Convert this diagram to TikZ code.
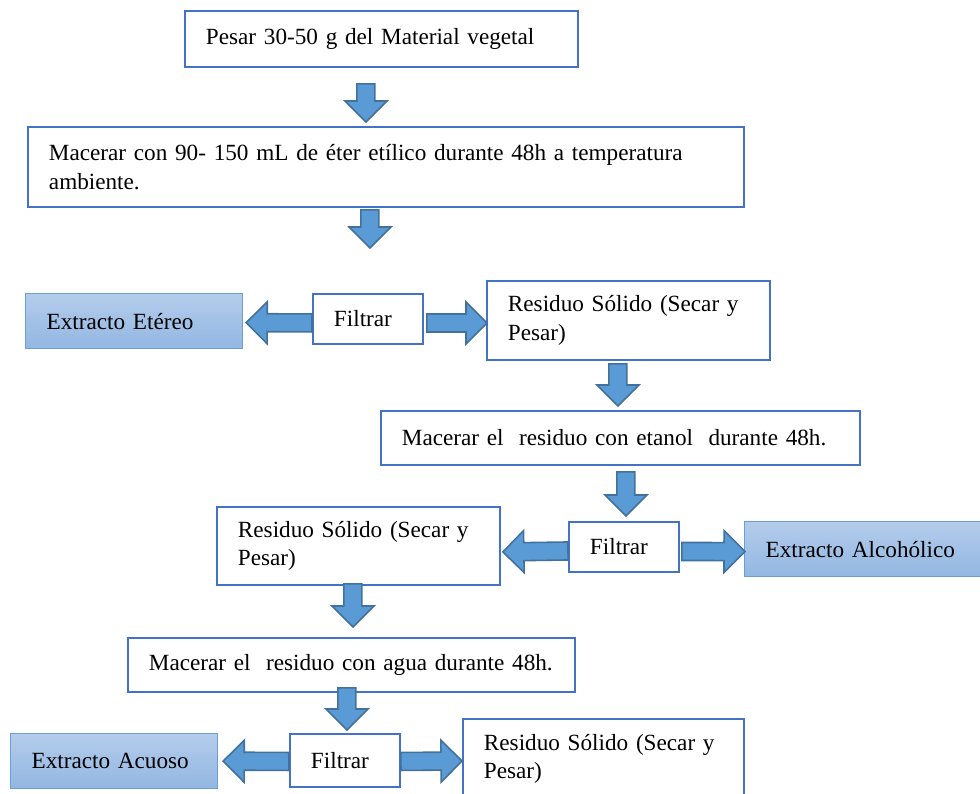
\documentclass[tikz,border=0pt]{standalone}
\usepackage{fontspec}
\setmainfont{Liberation Serif}
\usetikzlibrary{positioning, calc}
\definecolor{boxblue}{RGB}{68, 114, 196}
\definecolor{arrowblue}{RGB}{91, 155, 213}
\definecolor{arrowedge}{RGB}{65, 113, 156}
\definecolor{extracttop}{RGB}{180, 204, 235}
\definecolor{extractbottom}{RGB}{146, 183, 226}
\definecolor{extractedge}{RGB}{108, 158, 214}

\begin{document}
\begin{tikzpicture}[
    x=0.02cm, y=-0.02cm,
    procbox/.style={rectangle, anchor=north west, draw=boxblue, line width=1.1pt, fill=white, inner xsep=0.42cm, inner ysep=2pt, align=left, font=\fontsize{13.2}{16.2}\selectfont},
    extbox/.style={procbox, draw=extractedge, line width=0.7pt, top color=extracttop, bottom color=extractbottom},
    blockarrow/.style={draw=arrowedge, line width=0.9pt, fill=arrowblue, line join=miter, to path={
        ($(\tikztostart)!0.18cm!90:(\tikztotarget)$) --
        ($(\tikztotarget)!0.42cm!(\tikztostart)!0.18cm!90:(\tikztotarget)$) --
        ($(\tikztotarget)!0.42cm!(\tikztostart)!0.42cm!90:(\tikztotarget)$) --
        (\tikztotarget) --
        ($(\tikztotarget)!0.42cm!(\tikztostart)!0.42cm!-90:(\tikztotarget)$) --
        ($(\tikztotarget)!0.42cm!(\tikztostart)!0.18cm!-90:(\tikztotarget)$) --
        ($(\tikztostart)!0.18cm!-90:(\tikztotarget)$) -- cycle}}
]

\useasboundingbox (0,0) rectangle (980,794);
\clip (0,0) rectangle (980,794);

% First extraction (ether)
\node (pesar_box) [procbox, text width=7.02cm, minimum height=1.12cm] at (184,10) {Pesar 30-50 g del Material vegetal};
\node (eter_macer) [procbox, text width=13.48cm, minimum height=1.6cm] at (27,126) {Macerar con 90- 150 mL de éter etílico durante 48h a temperatura\\ambiente.};
\node (eter_extract) [extbox, text width=3.5cm, minimum height=1.1cm] at (25,293) {Extracto Etéreo};
\node (eter_filter) [procbox, text width=1.36cm, minimum height=1.0cm] at (312,293) {Filtrar};
\node (eter_residue) [procbox, text width=4.82cm, minimum height=1.58cm] at (486,280) {Residuo Sólido (Secar y\\Pesar)};

% Second extraction (ethanol)
\node (etanol_macer) [procbox, text width=8.74cm, minimum height=1.08cm] at (380,410) {Macerar el\ \ residuo con etanol\ \ durante 48h.};
\node (etanol_residue) [procbox, text width=4.82cm, minimum height=1.56cm] at (216,506) {Residuo Sólido (Secar y\\Pesar)};
\node (etanol_filter) [procbox, text width=1.36cm, minimum height=1.0cm] at (568,521) {Filtrar};
\node (etanol_extract) [extbox, text width=3.88cm, minimum height=1.1cm] at (744,521) {Extracto Alcohólico};

% Third extraction (water)
\node (agua_macer) [procbox, text width=8.1cm, minimum height=1.08cm] at (127,637) {Macerar el\ \ residuo con agua durante 48h.};
\node (agua_extract) [extbox, text width=3.3cm, minimum height=1.1cm] at (10,733) {Extracto Acuoso};
\node (agua_filter) [procbox, text width=1.36cm, minimum height=1.06cm] at (289,733) {Filtrar};
\node (agua_residue) [procbox, text width=4.78cm, minimum height=1.6cm] at (462,718) {Residuo Sólido (Secar y\\Pesar)};

% Block arrows
\draw [blockarrow] ([shift={(-15.5,16)}]pesar_box.south) to ([shift={(-20,-4)}]eter_macer.north);
\draw [blockarrow] ([shift={(-16,2)}]eter_macer.south) to ([shift={(2,-45)}]eter_filter.north);
\draw [blockarrow] ([shift={(0,4)}]eter_filter.west) to ([shift={(3,1.5)}]eter_extract.east);
\draw [blockarrow] ([shift={(3,4)}]eter_filter.east) to ([shift={(1,2.5)}]eter_residue.west);
\draw [blockarrow] ([shift={(-10.5,3)}]eter_residue.south) to ([shift={(-2.5,-4)}]etanol_macer.north);
\draw [blockarrow] ([shift={(5.5,6)}]etanol_macer.south) to ([shift={(2,-5)}]etanol_filter.north);
\draw [blockarrow] ([shift={(0,4)}]etanol_filter.west) to ([shift={(2,6)}]etanol_residue.east);
\draw [blockarrow] ([shift={(2,4.5)}]etanol_filter.east) to ([shift={(1,2.5)}]etanol_extract.west);
\draw [blockarrow] ([shift={(-5.5,-2)}]etanol_residue.south) to ([shift={(1.5,-10)}]agua_macer.north);
\draw [blockarrow] ([shift={(-4.5,-5)}]agua_macer.south) to ([shift={(2,-3)}]agua_filter.north);
\draw [blockarrow] ([shift={(0,1)}]agua_filter.west) to ([shift={(5,0)}]agua_extract.east);
\draw [blockarrow] ([shift={(0,1)}]agua_filter.east) to ([shift={(0,2)}]agua_residue.west);

\end{tikzpicture}
\end{document}
